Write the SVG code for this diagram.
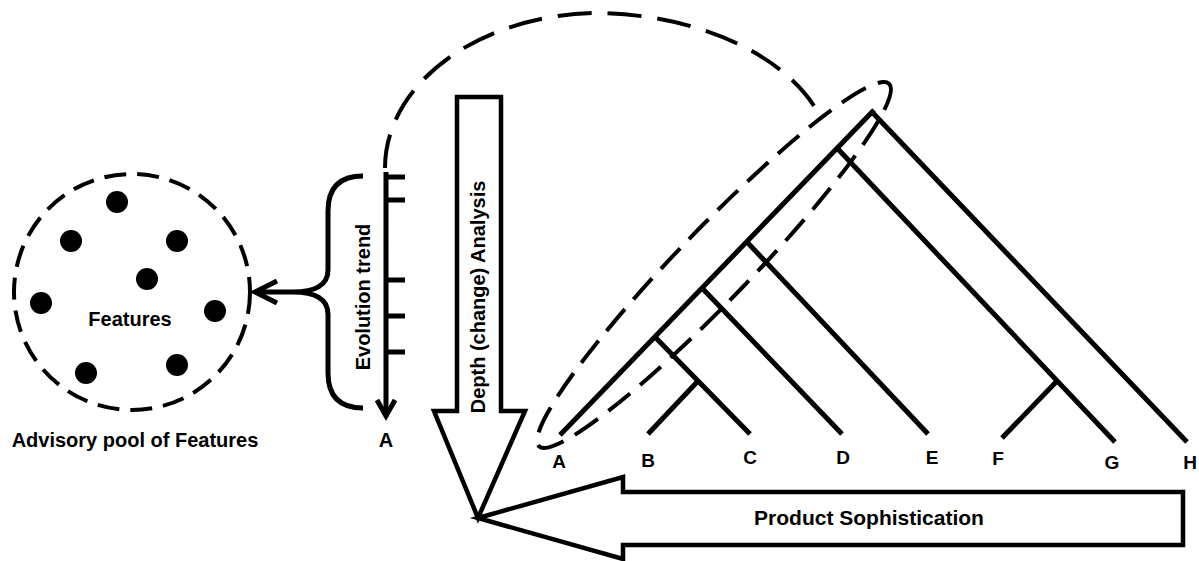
<svg xmlns="http://www.w3.org/2000/svg" width="1199" height="561" viewBox="0 0 1199 561">
<style>
text{font-family:"Liberation Sans",Arial,sans-serif;font-weight:bold;fill:#000}
.ln{fill:none;stroke:#000;stroke-width:5;stroke-linecap:butt}
.br{fill:none;stroke:#000;stroke-width:5;stroke-linecap:square}
.dash{fill:none;stroke:#000;stroke-width:4}
.dot{fill:#000}
.big{fill:#fff;stroke:#000;stroke-width:4.5;stroke-linejoin:miter}
</style>
<rect width="1199" height="561" fill="#fff"/>
<g id="pool">
<circle cx="132" cy="292" r="118" class="dash" stroke-width="4.5" stroke-dasharray="22 11"/>
<circle class="dot" cx="117" cy="202" r="11"/>
<circle class="dot" cx="71" cy="241" r="11"/>
<circle class="dot" cx="177" cy="241" r="11"/>
<circle class="dot" cx="147" cy="279" r="11"/>
<circle class="dot" cx="41" cy="303" r="11"/>
<circle class="dot" cx="215" cy="311" r="11"/>
<circle class="dot" cx="86" cy="373" r="11"/>
<circle class="dot" cx="177" cy="365" r="11"/>
<text x="130" y="326" font-size="20" text-anchor="middle">Features</text>
<text x="135" y="447" font-size="20" text-anchor="middle">Advisory pool of Features</text>
</g>
<g id="evolution">
<path class="ln" d="M363,176 Q328,176 328,211 L328,270 C328,285 315,292 293,292 C315,292 328,299 328,314 L328,373 Q328,408 363,408"/>
<line class="ln" x1="386" y1="172" x2="386" y2="414"/>
<polyline class="ln" points="377,400 386,416 395,400" stroke-width="4.5"/>
<path class="ln" d="M386,177H405M386,200H405M386,280H405M386,316H405M386,352H405"/>
<text transform="translate(370,297) rotate(-90)" font-size="20" text-anchor="middle">Evolution trend</text>
<text x="386" y="447" font-size="20" text-anchor="middle">A</text>
</g>
<g id="connectors">
<line class="ln" x1="293" y1="292" x2="256" y2="292"/>
<polyline class="ln" points="277,281 255,292 277,303" stroke-width="4.5"/>
<path class="dash" stroke-dasharray="34 16" d="M385,168 A215,155 0 0 1 600,13 A240,150 0 0 1 820,116"/>
</g>
<g id="depth">
<polygon class="big" stroke-width="4" points="457,97 501,97 501,411 525,411 478,518 434,411 457,411"/>
<text transform="translate(485,297) rotate(-90)" font-size="20" text-anchor="middle">Depth (change) Analysis</text>
</g>
<g id="sophistication">
<polygon class="big" stroke-width="5" points="478,518 623,477 623,492 1183,492 1183,545 623,545 623,559"/>
<text x="869" y="525" font-size="21" text-anchor="middle">Product Sophistication</text>
</g>
<g id="tree">
<line class="ln" x1="560" y1="435" x2="874" y2="110" stroke-width="5.5"/>
<line class="ln" x1="871" y1="111" x2="1187" y2="442"/>
<line class="ln" x1="837" y1="148" x2="1115" y2="442"/>
<line class="ln" x1="1057" y1="381" x2="1002" y2="438"/>
<line class="ln" x1="747" y1="242" x2="928" y2="434"/>
<line class="ln" x1="702" y1="288" x2="842" y2="434"/>
<line class="ln" x1="655" y1="337" x2="750" y2="434"/>
<line class="ln" x1="698" y1="381" x2="648" y2="434"/>
<text x="559" y="468" font-size="19" text-anchor="middle">A</text>
<text x="648" y="467" font-size="19" text-anchor="middle">B</text>
<text x="750" y="464" font-size="19" text-anchor="middle">C</text>
<text x="843" y="464" font-size="19" text-anchor="middle">D</text>
<text x="932" y="464" font-size="19" text-anchor="middle">E</text>
<text x="998" y="465" font-size="19" text-anchor="middle">F</text>
<text x="1112" y="469" font-size="19" text-anchor="middle">G</text>
<text x="1190" y="469" font-size="19" text-anchor="middle">H</text>
</g>
<g id="group-ellipse">
<ellipse class="dash" cx="714" cy="265" rx="252" ry="36" transform="rotate(-46 714 265)" stroke-dasharray="28 13"/>
</g>
</svg>
